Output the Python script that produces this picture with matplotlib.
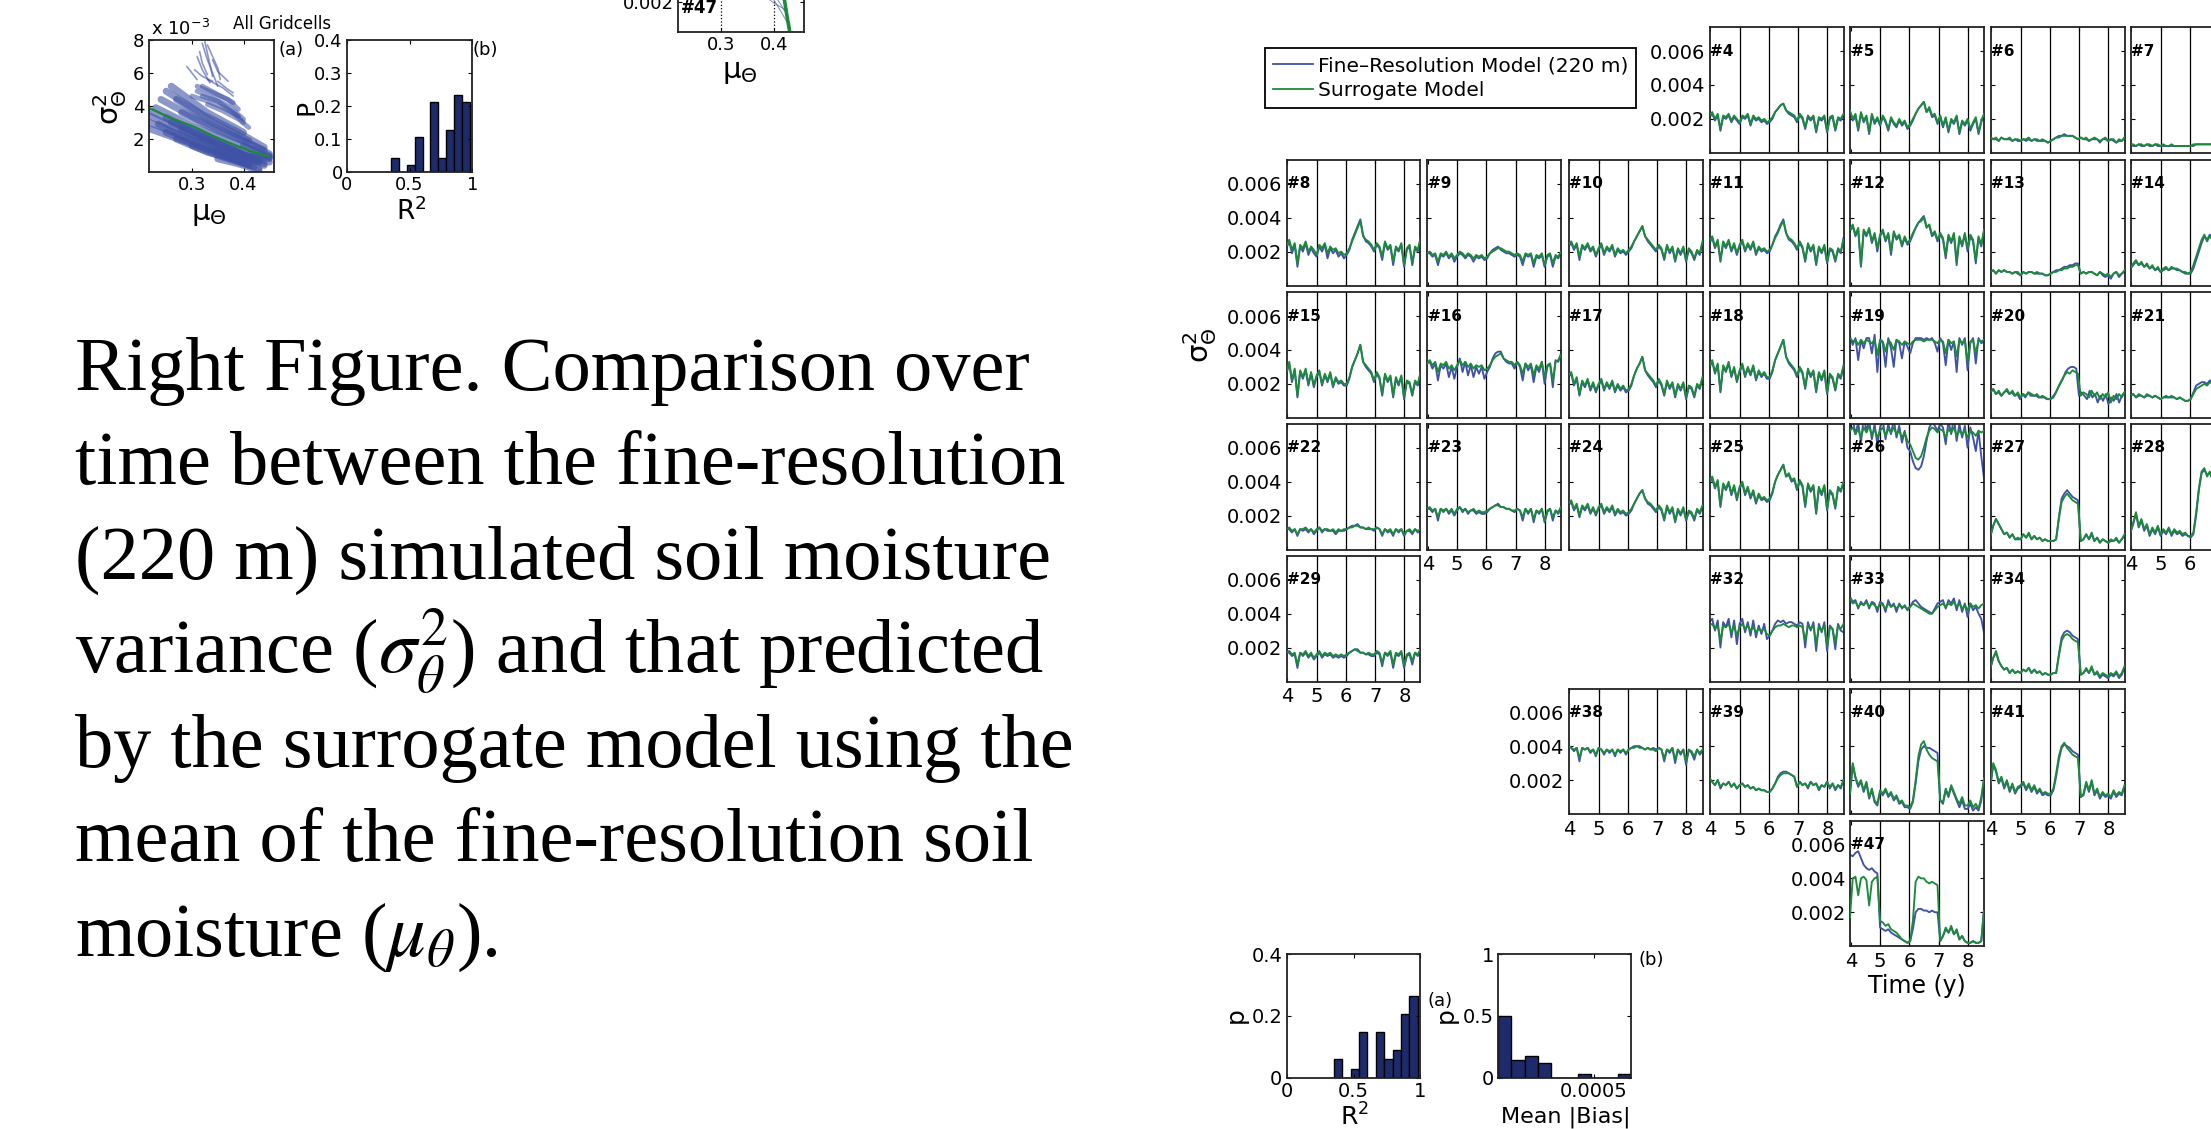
import numpy as np
import matplotlib
matplotlib.use("Agg")
import matplotlib.pyplot as plt
from matplotlib.lines import Line2D

plt.rcParams["font.family"] = ["DejaVu Sans"]

# ---------------------------------------------------------------- data ----
# Soil-moisture variance time series, units of 1e-4, sampled on a common grid
T_START, T_END = 3.97, 8.55
YEARS = [4, 5, 6, 7, 8]
Y_TICKS = [0.002, 0.004, 0.006]

FINE_04 = [21,23,19,22,13,21,20,22,18,21,19,17,21,20,22,16,21,19,20,18,19,17,18,20,24,26,28,29,25,23,22,21,18,22,20,14,21,19,21,12,20,19,21,12,20,21,13,20,19,22]
SURR_04 = [22,24,20,23,14,22,21,23,19,22,20,18,22,21,23,17,22,20,21,19,20,18,19,21,24,26,28,29,25,24,23,22,19,23,21,15,22,20,22,13,21,20,22,13,21,22,14,21,20,23]
FINE_05 = [24,19,22,13,23,18,21,11,22,17,20,16,21,18,13,20,17,15,19,16,18,14,16,19,23,26,28,30,24,26,21,22,17,21,15,20,12,19,17,21,11,18,16,19,13,17,20,11,18,22]
SURR_05 = [25,20,23,14,24,19,22,12,23,18,21,17,22,19,14,21,18,16,20,17,19,15,17,20,23,26,28,30,24,27,22,23,18,22,16,21,13,20,18,22,12,19,17,20,14,18,21,12,19,23]
FINE_06 = [9,8,8,7,9,8,8,8,7,8,7,7,8,7,8,7,8,7,7,7,7,6,7,8,9,10,10,11,10,10,10,9,8,9,8,8,7,8,8,8,6,8,8,7,8,7,6,7,7,9]
SURR_06 = [9,8,9,7,9,8,8,9,7,8,8,7,8,8,9,7,8,8,7,8,7,6,7,8,9,9,10,10,10,10,10,9,8,9,8,9,7,8,9,8,7,8,9,7,8,8,6,8,7,9]
FINE_07 = [5,4,4,5,4,4,5,4,4,5,4,4,4,4,4,4,4,4,4,4,4,4,4,4,5,5,5,5,5,5,5,5,5,5,5,4,5,5,5,4,5,5,5,4,5,5,4,5,5,5]
SURR_07 = [5,5,4,5,5,4,5,5,4,5,5,4,5,4,4,5,4,4,4,4,4,4,4,5,5,5,5,5,5,5,5,5,5,5,5,4,5,5,5,4,5,5,5,4,5,5,4,5,5,5]
FINE_08 = [22,26,19,24,11,23,20,25,18,22,19,17,23,20,24,16,22,19,21,17,19,16,18,21,27,31,35,39,30,26,25,23,20,24,22,15,25,21,23,12,22,20,24,11,21,23,12,22,20,27]
SURR_08 = [23,27,21,25,13,24,22,26,20,23,21,18,24,22,25,19,23,21,22,19,20,18,19,22,26,30,34,38,29,27,26,24,21,25,23,17,26,22,24,14,23,21,25,12,22,24,13,23,21,28]
FINE_09 = [19,19,17,18,12,18,17,19,16,18,14,17,19,18,16,18,17,14,17,16,17,15,16,19,21,22,23,21,20,19,19,18,17,18,17,12,18,17,18,11,17,16,18,11,17,18,11,17,16,19]
SURR_09 = [19,20,18,19,14,19,18,20,17,19,16,18,20,19,17,19,18,16,18,17,18,16,17,19,20,21,22,22,21,20,20,19,18,19,18,14,19,18,19,13,18,17,19,12,18,19,13,18,17,20]
FINE_10 = [23,25,21,24,15,23,21,24,20,22,17,21,24,18,22,20,23,17,21,19,20,18,20,22,26,29,32,35,29,26,24,22,20,23,21,15,23,19,22,14,21,18,22,14,21,19,15,20,18,25]
SURR_10 = [24,26,22,25,17,24,22,25,21,23,18,22,25,19,23,21,24,18,22,20,21,19,21,23,26,29,32,35,29,27,25,23,21,24,22,16,24,20,23,15,22,19,23,15,22,20,16,21,19,26]
FINE_11 = [25,28,22,26,14,25,22,26,20,24,18,23,26,20,24,21,25,18,22,20,21,19,20,24,29,32,36,39,31,27,26,24,21,25,22,14,24,20,23,12,22,19,23,13,21,20,14,21,19,28]
SURR_11 = [26,29,23,27,15,26,23,27,21,25,19,24,27,21,25,22,26,19,23,21,22,20,21,24,28,31,35,38,31,28,27,25,22,26,23,15,25,21,24,13,23,20,24,14,22,21,15,22,20,27]
FINE_12 = [32,35,29,33,11,32,29,33,25,30,20,29,32,26,30,18,31,27,29,23,28,24,26,30,34,37,39,41,35,35,29,31,26,30,27,16,29,25,30,12,28,23,30,20,29,26,13,28,23,32]
SURR_12 = [33,36,30,34,12,33,30,34,26,31,22,30,33,27,31,20,32,28,30,24,29,25,27,31,34,37,38,40,34,36,30,32,27,31,28,18,30,26,31,14,29,24,31,22,30,27,15,29,24,33]
FINE_13 = [8,9,7,9,8,9,8,8,7,8,7,6,8,7,8,8,7,7,7,7,6,6,7,8,9,9,10,11,11,12,12,13,13,7,8,7,8,8,7,6,8,6,5,6,4,7,8,5,7,8]
SURR_13 = [8,9,7,9,8,9,8,8,7,8,8,6,8,7,8,8,7,8,7,7,6,6,7,8,8,9,9,10,10,11,11,12,12,7,8,7,8,8,7,6,8,7,6,7,5,7,8,6,7,9]
FINE_14 = [10,12,14,12,13,11,12,10,11,9,10,8,9,10,9,10,10,9,9,8,7,7,7,10,15,20,25,29,27,30,28,31,29,27,29,26,28,25,27,23,26,24,25,22,25,23,24,21,23,25]
SURR_14 = [10,13,15,12,14,11,13,10,12,9,11,8,10,11,9,11,10,10,9,8,8,7,8,12,17,22,27,30,26,29,27,30,28,26,28,25,27,24,26,22,25,23,24,21,24,22,23,20,22,24]
FINE_15 = [26,32,21,28,12,27,23,28,19,26,18,24,27,19,25,21,26,18,23,20,21,19,19,23,30,34,38,43,33,30,28,26,21,26,23,13,25,21,24,12,23,19,24,11,21,20,13,21,19,26]
SURR_15 = [27,33,22,29,13,28,24,29,20,27,19,25,28,20,26,22,27,19,24,21,22,20,20,24,30,34,38,43,33,31,29,27,22,27,24,14,26,22,25,13,24,20,25,12,22,21,14,22,20,27]
FINE_16 = [32,33,29,32,22,31,29,32,24,30,23,30,35,27,33,25,31,24,30,26,30,23,27,30,35,38,39,39,35,33,32,32,29,33,30,22,32,28,31,21,30,27,33,20,30,32,18,34,33,38]
SURR_16 = [32,34,31,33,27,32,31,33,29,31,28,31,34,31,33,30,32,29,31,30,31,28,29,31,34,36,37,38,35,34,33,33,31,33,31,26,32,30,32,25,31,29,33,24,31,32,22,33,34,37]
FINE_17 = [24,26,19,23,13,21,18,22,16,20,15,19,22,16,20,17,21,15,19,16,18,15,16,19,25,29,32,36,28,25,23,21,18,22,19,13,21,17,20,12,19,16,20,11,18,17,12,19,17,23]
SURR_17 = [25,27,20,24,14,22,19,23,17,21,16,20,23,17,21,18,22,16,20,17,19,16,17,20,25,29,32,36,28,26,24,22,19,23,20,14,22,18,21,13,20,17,21,12,19,18,13,20,18,24]
FINE_18 = [30,33,26,31,15,30,27,32,24,29,21,27,31,24,29,25,30,22,27,24,26,23,23,27,34,38,42,46,36,32,30,28,24,29,26,17,28,24,27,15,26,22,27,14,25,23,16,25,23,30]
SURR_18 = [31,34,27,32,16,31,28,33,25,30,22,28,32,25,30,26,31,23,28,25,27,24,24,28,34,38,42,46,36,33,31,29,25,30,27,18,29,25,28,16,27,23,28,15,26,24,17,26,24,31]
FINE_19 = [48,43,47,34,46,41,47,47,38,49,27,46,44,30,47,41,30,46,44,35,45,42,38,44,47,47,47,46,47,46,47,44,39,47,44,31,46,40,45,27,47,43,47,28,44,47,32,47,44,45]
SURR_19 = [47,45,46,43,46,44,46,45,44,46,37,46,45,39,46,44,40,46,45,43,45,44,43,45,46,46,46,45,46,46,46,45,44,46,45,38,46,44,45,36,46,44,46,33,45,46,38,46,45,46]
FINE_20 = [15,17,14,15,13,15,16,14,15,13,14,11,14,12,15,13,13,13,12,12,12,11,11,12,14,17,20,23,27,29,30,30,29,13,15,13,11,16,12,14,9,13,10,14,8,12,10,14,9,13,15]
SURR_20 = [15,17,14,16,13,15,17,14,16,13,15,12,14,13,15,14,13,14,12,13,12,11,11,12,15,19,22,25,27,26,28,27,26,13,15,14,12,16,13,15,11,14,12,15,9,13,11,14,12,15]
FINE_21 = [13,14,12,13,13,12,13,13,12,13,12,11,12,12,12,12,12,11,12,11,10,10,11,15,19,20,21,21,20,22,21,22,21,20,22,19,21,20,21,18,20,19,21,18,20,19,20,18,19,20]
SURR_21 = [13,14,12,14,13,12,14,13,12,13,12,11,12,13,12,13,12,11,12,11,10,10,11,14,17,18,19,20,19,21,20,22,21,20,22,19,21,20,21,18,20,19,21,18,20,19,20,18,19,20]
FINE_22 = [12,12,10,12,8,12,11,12,10,12,9,11,13,10,12,11,11,11,9,11,11,11,12,13,14,14,15,13,13,12,12,12,11,13,12,8,12,10,11,8,12,10,12,8,11,11,9,12,10,11]
SURR_22 = [12,13,11,12,9,12,12,13,11,12,10,12,13,11,12,12,11,12,10,12,11,12,12,13,13,14,14,13,13,12,13,12,12,13,12,9,12,11,12,9,12,11,12,9,11,12,10,12,11,12]
FINE_23 = [24,24,22,24,17,24,22,24,21,23,20,23,25,22,24,21,23,23,21,22,21,21,22,24,25,26,27,25,25,24,24,23,22,24,23,17,24,21,24,16,23,21,24,16,22,24,17,23,21,25]
SURR_23 = [24,25,23,24,19,24,23,24,22,24,21,24,25,23,24,22,23,24,22,23,22,22,23,24,25,26,26,25,25,24,24,23,23,24,23,19,24,22,24,18,23,22,24,17,23,24,19,23,22,25]
FINE_24 = [26,28,23,26,19,25,23,26,21,24,20,24,26,21,24,22,25,20,23,21,22,20,21,23,27,30,33,35,30,27,26,24,22,25,23,17,25,21,24,16,23,20,24,17,22,21,17,23,21,25]
SURR_24 = [27,29,24,27,20,26,24,27,22,25,21,25,27,22,25,23,26,21,24,22,23,21,22,24,27,30,33,35,30,28,27,25,23,26,24,18,26,22,25,17,24,21,25,18,23,22,18,24,22,26]
FINE_25 = [39,42,36,40,25,38,35,39,32,37,29,36,39,32,36,30,34,27,32,29,30,28,29,33,40,44,47,50,43,44,40,41,35,40,37,25,38,34,37,21,36,32,37,23,34,32,24,36,34,39]
SURR_25 = [40,43,37,41,26,39,36,40,33,38,30,37,40,33,37,31,35,28,33,30,31,29,30,34,40,44,47,50,43,45,41,42,36,41,38,26,39,35,38,22,37,33,38,24,35,33,25,37,35,40]
FINE_26 = [73,77,68,75,63,78,70,76,65,74,62,72,76,65,74,68,77,66,73,63,70,60,58,52,48,47,49,55,64,72,75,73,70,74,72,62,76,68,78,64,74,66,73,60,72,66,58,70,55,42]
SURR_26 = [70,72,68,71,66,72,69,73,67,71,66,70,72,67,71,69,72,68,70,66,69,64,62,58,54,53,55,60,66,70,72,71,69,71,70,66,71,69,72,67,70,68,70,66,70,69,67,70,69,70]
FINE_27 = [8,14,18,15,12,9,10,7,9,6,6,6,9,7,9,6,8,6,7,5,6,5,5,5,6,19,30,33,35,33,31,30,29,5,6,9,6,9,5,7,4,6,5,4,5,5,6,4,6,8]
SURR_27 = [8,14,18,15,12,9,10,7,9,6,7,6,9,7,10,6,8,6,7,5,6,5,5,5,6,18,28,31,33,31,29,28,27,5,6,9,6,10,5,7,4,6,5,4,6,5,7,4,6,9]
FINE_28 = [10,15,21,13,17,11,14,8,12,9,13,8,11,9,12,8,11,9,10,8,9,8,7,9,20,35,45,47,44,45,42,43,41,44,40,43,41,42,38,41,39,40,42,37,40,39,41,38,40,42]
SURR_28 = [10,16,22,14,18,12,15,9,13,10,14,9,12,10,13,9,12,10,11,9,10,8,8,10,22,36,46,48,43,46,41,44,42,45,41,44,40,43,39,42,40,41,43,38,41,40,42,39,41,43]
FINE_29 = [17,17,15,16,8,17,15,17,14,16,13,15,17,14,16,15,16,14,15,14,15,14,15,17,18,19,19,17,17,16,16,15,15,17,16,9,17,15,17,8,16,15,17,8,15,16,10,17,15,18]
SURR_29 = [17,18,16,17,10,17,16,18,15,17,14,16,18,15,17,16,17,15,16,15,16,15,16,17,18,19,18,17,17,16,17,16,16,18,17,11,17,16,18,10,17,16,18,10,16,17,12,17,16,19]
FINE_32 = [35,37,30,36,20,35,32,37,26,36,22,34,37,29,35,27,36,26,33,28,34,25,27,30,34,36,35,36,34,35,35,34,33,35,34,20,35,30,35,18,34,29,35,18,33,31,19,34,30,29]
SURR_32 = [33,34,31,33,24,33,32,34,29,33,27,32,34,31,33,30,32,29,31,30,31,28,27,30,32,33,33,34,33,32,33,33,32,33,32,24,33,31,33,22,32,30,33,21,32,31,23,33,31,34]
FINE_33 = [50,47,48,43,47,45,48,43,47,46,41,47,46,41,48,44,46,41,46,43,45,42,44,47,48,46,44,43,42,41,40,43,46,47,48,43,48,46,49,42,48,41,46,38,46,42,44,40,37,29]
SURR_33 = [49,46,47,44,46,45,47,44,46,45,43,46,45,43,46,44,45,43,45,44,44,43,44,46,45,44,43,42,41,40,40,42,44,45,46,44,46,45,47,44,46,43,45,42,46,44,45,43,45,46]
FINE_34 = [8,14,17,12,9,7,8,5,7,5,6,5,7,6,8,5,7,5,6,4,5,4,4,5,5,16,26,29,30,29,27,26,25,4,5,7,5,8,4,5,2,4,3,2,4,3,5,2,4,8]
SURR_34 = [8,14,18,12,9,7,8,5,7,5,6,5,7,6,8,5,7,5,6,4,5,4,4,5,5,15,24,27,28,27,25,24,23,4,5,8,5,9,4,6,3,5,4,3,5,4,6,3,5,9]
FINE_38 = [40,39,37,39,31,39,38,39,36,38,34,39,38,35,38,36,38,34,38,36,38,35,38,39,40,40,40,39,38,39,38,39,38,39,38,31,38,36,39,30,38,35,38,29,38,36,32,38,35,37]
SURR_38 = [40,39,38,39,33,39,38,39,37,38,35,39,38,36,38,37,38,35,38,37,38,36,38,39,39,40,39,39,38,39,38,38,37,39,38,33,38,37,39,32,38,36,38,31,38,37,34,38,36,38]
FINE_39 = [21,19,17,20,15,18,17,19,16,18,15,17,18,16,17,15,16,14,15,14,14,13,13,15,18,22,24,25,25,24,23,22,16,19,17,18,15,19,17,18,14,17,16,19,15,18,14,17,15,20]
SURR_39 = [21,19,17,20,16,18,17,19,16,18,15,17,18,16,17,15,16,14,15,14,14,13,13,15,18,21,23,24,24,24,23,22,16,19,17,18,16,19,17,18,15,17,16,19,16,18,15,17,16,20]
FINE_40 = [12,29,21,16,19,13,18,9,14,7,5,13,11,14,10,12,8,10,6,7,4,4,3,7,18,31,38,40,39,39,38,37,36,8,6,14,10,16,12,8,4,8,3,3,6,2,4,2,8,20]
SURR_40 = [12,30,22,17,20,14,19,10,15,8,6,14,12,15,11,13,9,11,7,8,5,5,4,8,20,34,41,43,38,35,33,32,31,8,7,15,11,17,13,9,6,10,5,5,8,4,6,3,10,21]
FINE_41 = [17,29,25,18,21,15,19,13,17,12,15,16,18,14,17,13,16,12,14,11,12,11,11,14,22,32,39,41,40,39,37,36,35,10,11,18,13,19,11,14,9,12,10,11,9,13,10,12,11,16]
SURR_41 = [17,30,26,19,22,16,20,14,18,13,16,17,19,15,18,14,17,13,15,12,13,12,12,15,24,34,40,42,39,37,35,34,33,10,12,19,14,20,12,15,10,13,11,12,10,14,11,13,12,17]
FINE_47 = [54,53,55,56,52,48,46,45,46,44,43,11,10,9,10,8,7,6,5,4,3,2,3,10,20,22,22,21,21,20,21,20,20,3,6,10,8,11,7,9,4,6,3,2,2,3,2,2,3,22]
SURR_47 = [17,40,41,30,40,41,39,24,38,40,41,15,14,12,13,10,9,8,6,4,3,2,3,15,38,41,40,40,38,37,38,37,36,3,6,11,8,12,7,10,4,6,3,2,2,3,2,2,3,21]

SERIES = {
    4: (FINE_04, SURR_04), 5: (FINE_05, SURR_05), 6: (FINE_06, SURR_06), 7: (FINE_07, SURR_07),
    8: (FINE_08, SURR_08), 9: (FINE_09, SURR_09), 10: (FINE_10, SURR_10), 11: (FINE_11, SURR_11),
    12: (FINE_12, SURR_12), 13: (FINE_13, SURR_13), 14: (FINE_14, SURR_14), 15: (FINE_15, SURR_15),
    16: (FINE_16, SURR_16), 17: (FINE_17, SURR_17), 18: (FINE_18, SURR_18), 19: (FINE_19, SURR_19),
    20: (FINE_20, SURR_20), 21: (FINE_21, SURR_21), 22: (FINE_22, SURR_22), 23: (FINE_23, SURR_23),
    24: (FINE_24, SURR_24), 25: (FINE_25, SURR_25), 26: (FINE_26, SURR_26), 27: (FINE_27, SURR_27),
    28: (FINE_28, SURR_28), 29: (FINE_29, SURR_29), 32: (FINE_32, SURR_32), 33: (FINE_33, SURR_33),
    34: (FINE_34, SURR_34), 38: (FINE_38, SURR_38), 39: (FINE_39, SURR_39), 40: (FINE_40, SURR_40),
    41: (FINE_41, SURR_41), 47: (FINE_47, SURR_47),
}
YLABEL_PANELS = {4, 8, 15, 22, 29, 38, 47}
XLABEL_PANELS = {23, 28, 29, 38, 39, 41, 47}

# Histograms of goodness of fit (proportion of cells per bin)
R2_CENTERS = [0.385, 0.51, 0.573, 0.698, 0.76, 0.823, 0.885, 0.948]
R2_P_ALL = [0.043, 0.021, 0.106, 0.213, 0.043, 0.128, 0.234, 0.213]
R2_P_TIME = [0.059, 0.029, 0.147, 0.147, 0.059, 0.088, 0.206, 0.265]
BIAS_EDGES_MAX = 0.000696
BIAS_P = [0.5, 0.147, 0.176, 0.118, 0.0, 0.0, 0.029, 0.0, 0.0, 0.029]

# Mean/variance cloud for all grid cells (mu, sigma^2 in 1e-3)
CLOUD_MU = [
    [0.218, 0.30, 0.38, 0.44], [0.218, 0.28, 0.36, 0.42], [0.22, 0.30, 0.37, 0.41],
    [0.23, 0.30, 0.38, 0.45], [0.24, 0.31, 0.38, 0.44], [0.25, 0.32, 0.39, 0.44],
    [0.26, 0.33, 0.40], [0.25, 0.32, 0.38, 0.43], [0.27, 0.33, 0.40],
    [0.28, 0.35, 0.42, 0.45], [0.30, 0.36, 0.42], [0.35, 0.40, 0.45], [0.40, 0.43, 0.45],
    [0.235, 0.30, 0.36, 0.41], [0.26, 0.33, 0.39, 0.43],
    [0.22, 0.29, 0.36, 0.43], [0.25, 0.31, 0.37, 0.44], [0.28, 0.34, 0.40, 0.45],
    [0.32, 0.37, 0.42, 0.45], [0.35, 0.39, 0.43], [0.27, 0.34, 0.41],
]
CLOUD_VAR = [
    [3.4, 2.2, 1.2, 0.5], [3.0, 2.2, 1.3, 0.6], [2.6, 1.7, 0.9, 0.4],
    [3.9, 2.8, 1.8, 1.0], [4.4, 3.2, 2.2, 1.3], [4.9, 3.5, 2.4, 1.5],
    [5.2, 3.6, 2.4], [2.4, 1.5, 0.8, 0.2], [2.0, 1.2, 0.6],
    [3.6, 2.5, 1.6, 1.1], [1.6, 0.9, 0.3], [1.3, 1.0, 0.8], [1.6, 1.1, 0.9],
    [2.9, 1.9, 1.1, 0.5], [3.0, 2.0, 1.2, 0.6],
    [3.7, 2.6, 1.6, 0.7], [3.3, 2.4, 1.5, 0.4], [2.6, 1.7, 1.0, 0.6],
    [2.1, 1.5, 1.0, 0.9], [0.8, 0.5, 0.1], [4.4, 3.0, 1.9],
]
BLOB_MU = [
    [0.30, 0.33, 0.36, 0.39], [0.31, 0.34, 0.37, 0.40], [0.32, 0.35, 0.38],
    [0.33, 0.36, 0.39, 0.41], [0.31, 0.34, 0.37, 0.39], [0.32, 0.35, 0.38, 0.40],
]
BLOB_VAR = [
    [4.6, 4.3, 3.9, 3.4], [4.9, 4.5, 4.0, 3.2], [5.2, 4.7, 4.2],
    [4.1, 3.7, 3.2, 2.7], [5.2, 4.8, 4.4, 3.8], [4.6, 4.3, 3.6, 3.0],
]
UPPER_MU = [
    [0.325, 0.33, 0.335, 0.34], [0.33, 0.34, 0.35, 0.355], [0.315, 0.32, 0.33],
    [0.29, 0.30, 0.31], [0.34, 0.35, 0.37], [0.305, 0.32, 0.34], [0.35, 0.37, 0.38],
    [0.32, 0.33, 0.34, 0.35], [0.31, 0.32, 0.335], [0.33, 0.36, 0.38],
]
UPPER_VAR = [
    [7.9, 7.2, 6.5, 5.8], [7.7, 7.0, 6.3, 5.6], [7.3, 6.6, 5.9],
    [6.4, 6.0, 5.6], [6.8, 6.1, 5.5], [6.2, 5.8, 5.5], [5.5, 5.0, 4.8],
    [7.8, 6.8, 6.0, 5.2], [7.0, 6.2, 5.4], [5.6, 5.1, 4.6],
]
FIT_MU = [0.218, 0.26, 0.303, 0.34, 0.374, 0.41, 0.4485]
FIT_VAR = [3.87, 3.25, 2.76, 2.2, 1.75, 1.3, 0.95]

# Cell #47 mean/variance relation (sigma^2 absolute)
C47_FIT_MU = [0.400, 0.408, 0.414, 0.419, 0.424, 0.428]
C47_FIT_VAR = [0.0060, 0.0045, 0.0032, 0.0021, 0.0010, 0.0002]
C47_MU = [[0.375, 0.39, 0.405, 0.42, 0.43], [0.385, 0.40, 0.415, 0.425], [0.39, 0.405, 0.42]]
C47_VAR = [[0.0032, 0.0026, 0.0018, 0.0009, 0.0003], [0.0023, 0.0019, 0.0016, 0.0012],
           [0.0030, 0.0022, 0.0014]]

PARAGRAPH = [
    "Right Figure. Comparison over",
    "time between the fine-resolution",
    "(220 m) simulated soil moisture",
    r"variance ($\sigma_\theta^2$) and that predicted",
    "by the surrogate model using the",
    "mean of the fine-resolution soil",
    r"moisture ($\mu_\theta$).",
]

# -------------------------------------------------------------- layout ----
W, H = 2211, 1129
BLUE = "#3f52a6"
GREEN = "#1c8a3a"
BAR = "#1d2b6b"
FRAME = "#222222"

fig = plt.figure(figsize=(W / 100, H / 100), dpi=100)


def add_px(left, top, width, height):
    return fig.add_axes([left / W, 1 - (top + height) / H, width / W, height / H])


def ftext(x, y, s, **kw):
    kw.setdefault("ha", "center")
    kw.setdefault("va", "center")
    return fig.text(x / W, 1 - y / H, s, **kw)


def frame(ax, lw=1.3):
    for sp in ax.spines.values():
        sp.set_linewidth(lw)
        sp.set_color(FRAME)


# ----- time-series grid
COL_LEFT = [1286.5, 1427.0, 1568.5, 1709.5, 1850.0, 1990.5, 2130.5]
ROW_TOP = [27.3, 160.0, 292.3, 424.0, 556.0, 688.5, 820.7]
PW, PH = 134.0, 125.5

for n, (fine, surr) in SERIES.items():
    r, c = divmod(n - 1, 7)
    ax = add_px(COL_LEFT[c], ROW_TOP[r], PW, PH)
    for yr in YEARS[1:]:
        ax.axvline(yr, color="black", lw=0.9, zorder=1)
    tf = np.linspace(T_START, T_END, len(fine))
    ts = np.linspace(T_START, T_END, len(surr))
    ax.plot(tf, np.asarray(fine) * 1e-4, color=BLUE, lw=1.35, zorder=2)
    ax.plot(ts, np.asarray(surr) * 1e-4, color=GREEN, lw=1.35, zorder=3)
    ax.set_xlim(T_START, T_END)
    ax.set_ylim(0, 0.0074)
    ax.set_xticks(YEARS)
    ax.set_yticks(Y_TICKS)
    ax.tick_params(direction="in", length=3, width=0.8, top=True, right=True,
                   labelsize=14, pad=3)
    ax.tick_params(axis="x", pad=4)
    if n in YLABEL_PANELS:
        ax.set_yticklabels(["0.002", "0.004", "0.006"])
    else:
        ax.set_yticklabels([])
    if n in XLABEL_PANELS:
        ax.set_xticklabels([str(y) for y in YEARS])
    else:
        ax.set_xticklabels([])
    ax.text(T_START + 0.02, 0.006, f"#{n}", fontsize=11, fontweight="bold",
            ha="left", va="center", zorder=4)
    frame(ax)
    if n == 47:
        ax.set_xlabel("Time (y)", fontsize=17, labelpad=2)

ftext(1200, 345, r"$\mathregular{\sigma_\Theta^2}$", fontsize=21, rotation=90)

handles = [Line2D([], [], color=BLUE, lw=1.3), Line2D([], [], color=GREEN, lw=1.3)]
leg = fig.legend(handles, ["Fine\u2013Resolution Model (220 m)", "Surrogate Model"],
                 loc="upper left", bbox_to_anchor=(1264.5 / W, 1 - 48.3 / H),
                 borderaxespad=0, fontsize=14.5, handlelength=2.0, handletextpad=0.25,
                 labelspacing=0.3, borderpad=0.4, fancybox=False, framealpha=1)
leg.get_frame().set_edgecolor("black")
leg.get_frame().set_linewidth(1.3)

# ----- histograms below the grid
axa = add_px(1286.5, 954.0, 134.0, 123.7)
axa.bar(R2_CENTERS, R2_P_TIME, width=0.0625, color=BAR, edgecolor="black", lw=1.0)
axa.set_xlim(0, 1)
axa.set_ylim(0, 0.4)
axa.set_xticks([0, 0.5, 1])
axa.set_xticklabels(["0", "0.5", "1"])
axa.set_yticks([0, 0.2, 0.4])
axa.set_yticklabels(["0", "0.2", "0.4"])
axa.tick_params(direction="in", length=3, width=0.8, top=True, right=True, labelsize=14, pad=3)
frame(axa)
ftext(1236, 1015, "p", fontsize=18, rotation=90)
ftext(1354, 1117, r"R$^2$", fontsize=18)
ftext(1440, 1001, "(a)", fontsize=13)

bias_w = BIAS_EDGES_MAX / len(BIAS_P)
bias_c = [bias_w * (i + 0.5) for i in range(len(BIAS_P))]
axb = add_px(1498.0, 954.0, 133.0, 123.7)
axb.bar(bias_c, BIAS_P, width=bias_w, color=BAR, edgecolor="black", lw=1.0)
axb.set_xlim(0, BIAS_EDGES_MAX)
axb.set_ylim(0, 1)
axb.set_xticks([0.0005])
axb.set_xticklabels(["0.0005"])
axb.set_yticks([0, 0.5, 1])
axb.set_yticklabels(["0", "0.5", "1"])
axb.tick_params(direction="in", length=3, width=0.8, top=True, right=True, labelsize=14, pad=3)
frame(axb)
ftext(1446, 1015, "p", fontsize=18, rotation=90)
ftext(1566, 1117, "Mean |Bias|", fontsize=16)
ftext(1651, 960, "(b)", fontsize=13)

# ----- all-gridcell scatter (upper left)
axs = add_px(148.5, 40.0, 125.0, 132.0)
for mu, var in zip(CLOUD_MU, CLOUD_VAR):
    axs.plot(mu, var, color=BLUE, lw=5.0, alpha=0.6, solid_capstyle="round")
for mu, var in zip(BLOB_MU, BLOB_VAR):
    axs.plot(mu, var, color=BLUE, lw=3.5, alpha=0.55, solid_capstyle="round")
for mu, var in zip(UPPER_MU, UPPER_VAR):
    axs.plot(mu, var, color=BLUE, lw=1.2, alpha=0.6, solid_capstyle="round")
axs.plot(FIT_MU, FIT_VAR, color=GREEN, lw=1.6)
axs.set_xlim(0.2159, 0.458)
axs.set_ylim(0, 8)
axs.set_xticks([0.3, 0.4])
axs.set_xticklabels(["0.3", "0.4"])
axs.set_yticks([2, 4, 6, 8])
axs.set_yticklabels(["2", "4", "6", "8"])
axs.tick_params(direction="in", length=3, width=0.8, top=True, right=True, labelsize=13, pad=3)
frame(axs)
ftext(151, 29, r"x 10$^{-3}$", fontsize=13, ha="left")
ftext(282, 24, "All Gridcells", fontsize=12)
ftext(291, 50, "(a)", fontsize=13)
ftext(110, 107, r"$\mathregular{\sigma_\Theta^2}$", fontsize=21, rotation=90)
ftext(209, 214, r"$\mathregular{\mu_\Theta}$", fontsize=21)

axh = add_px(346.8, 40.0, 125.5, 132.0)
axh.bar(R2_CENTERS, R2_P_ALL, width=0.0625, color=BAR, edgecolor="black", lw=1.0)
axh.set_xlim(0, 1)
axh.set_ylim(0, 0.4)
axh.set_xticks([0, 0.5, 1])
axh.set_xticklabels(["0", "0.5", "1"])
axh.set_yticks([0, 0.1, 0.2, 0.3, 0.4])
axh.set_yticklabels(["0", "0.1", "0.2", "0.3", "0.4"])
axh.tick_params(direction="in", length=3, width=0.8, top=True, right=True, labelsize=13, pad=3)
frame(axh)
ftext(306, 107, "P", fontsize=18, rotation=90)
ftext(411, 212, r"R$^2$", fontsize=19)
ftext(485, 50, "(b)", fontsize=13)

# ----- cell #47 mean/variance panel (runs off the top edge)
axc = add_px(678.3, -92.7, 125.7, 125.0)
for mu, var in zip(C47_MU, C47_VAR):
    axc.plot(mu, var, color=BLUE, lw=0.8, alpha=0.6)
axc.plot(C47_FIT_MU, C47_FIT_VAR, color=GREEN, lw=2.6)
axc.set_xlim(0.2209, 0.4554)
axc.set_ylim(0, 0.0082)
axc.set_xticks([0.3, 0.4])
axc.set_xticklabels(["0.3", "0.4"])
axc.set_yticks([0.002])
axc.set_yticklabels(["0.002"])
axc.grid(True, axis="x", linestyle=":", color="black", lw=0.9)
axc.tick_params(direction="in", length=3, width=0.8, top=True, right=True, labelsize=13, pad=3)
axc.text(0.226, 0.00157, "#47", fontsize=12, fontweight="bold", ha="left", va="center")
frame(axc)
ftext(740, 72, r"$\mathregular{\mu_\Theta}$", fontsize=21)

# ----- caption paragraph
BASE0, STEP = 390.0, 94.3
for i, line in enumerate(PARAGRAPH):
    fig.text(75 / W, 1 - (BASE0 + i * STEP) / H, line, fontsize=55,
             family="Liberation Serif", math_fontfamily="stix",
             ha="left", va="baseline")

fig.savefig("out.png", dpi=100)
